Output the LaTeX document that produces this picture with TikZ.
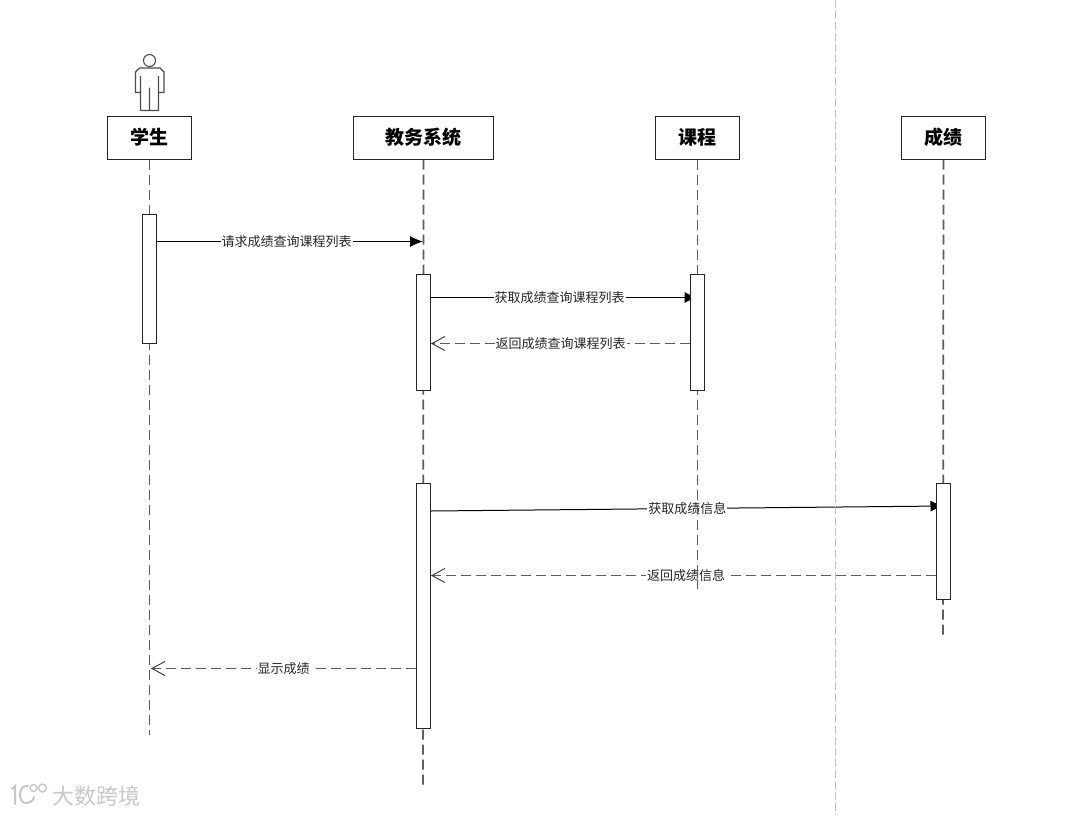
\documentclass[tikz,border=0pt]{standalone}
\usepackage{fontspec}
\setmainfont{Noto Sans CJK SC}
\usetikzlibrary{arrows.meta,backgrounds}
\definecolor{linegray}{HTML}{5E5E5E}
\definecolor{markgray}{HTML}{C8C8C8}
\begin{document}
\begin{tikzpicture}[
        x=1pt, y=-1pt,
        header/.style={draw=black!85, fill=white, line width=1pt, minimum height=43pt, inner sep=0pt, font=\fontsize{19}{22}\selectfont},
        activation/.style={draw=black!85, fill=white, line width=1pt, minimum width=14pt, inner sep=0pt},
        lifeline/.style={draw=linegray, line width=1.7pt, dash pattern=on 10pt off 5pt},
        call/.style={draw=black, line width=1pt, -{Latex[length=13pt,width=11pt]}},
        reply/.style={draw=linegray, line width=1.6pt, dash pattern=on 10pt off 5pt, -{Straight Barb[length=13pt,width=14pt,line width=.9pt,black!80]}},
        msg/.style={fill=white, inner xsep=1pt, inner ysep=0pt, text=black!85, font=\fontsize{13}{15}\selectfont},
        actor/.style={draw=black!70, line width=1.1pt, line join=round},
        brandmark/.style={text=markgray, font=\fontsize{22}{25}\selectfont},
    ]
    \useasboundingbox (0,0) rectangle (1080,815);
    % heads
    \node[header, minimum width=84pt] (stu) at (149.5,137.5) {\textbf{学生}};
    \node[header, minimum width=140pt] (sys) at (423.5,137.5) {\textbf{教务系统}};
    \node[header, minimum width=84pt] (cou) at (697.5,137.5) {\textbf{课程}};
    \node[header, minimum width=84pt] (sco) at (943.5,137.5) {\textbf{成绩}};
    % actor
    \draw[actor] (149.5,60.5) circle (6);
    \draw[actor] (140,92.5) -- (135.5,92.5) -- (135.5,72) -- (139.5,68) -- (160,68) -- (164,72) -- (164,92.5) -- (158.5,92.5)
        (140.5,76) -- (140.5,110.5) -- (158.5,110.5) -- (158.5,76) (149.5,87.5) -- (149.5,110.5);
    % activations
    \node[activation, minimum height=129pt] (stuact) at (149.5,278.5) {};
    \node[activation, minimum height=116pt] (sysact) at (423.5,332) {};
    \node[activation, minimum height=116pt] (couact) at (697.5,332) {};
    \node[activation, minimum height=245pt] (sysshow) at (423.5,605.5) {};
    \node[activation, minimum height=116pt] (scoact) at (943.5,541) {};
    % ends of the lifelines
    \coordinate (stuend) at (149.5,735);
    \coordinate (sysend) at (423,787);
    \coordinate (couend) at (697.5,589);
    \coordinate (scoend) at (943,638);
    \coordinate (reqend) at (423,241.5);
    \coordinate (showend) at (151,668.5);
    \begin{pgfonlayer}{background}
    \fill[white] (0,0) rectangle (1080,815);
    % messages
    \draw[call] (stuact.east |- reqend) -- node[msg, pos=.487] (reqmsg) {请求成绩查询课程列表} (reqend);
    \draw[call] (sysact.east |- 0,297.5) -- node[msg, pos=.483] (getlist) {获取成绩查询课程列表} (couact.center |- 0,297.5);
    \draw[reply] (couact.west |- 0,343.5) -- node[msg, pos=.5] (backlist) {返回成绩查询课程列表} (sysact.east |- 0,343.5);
    \draw[call] (sysshow.east |- 0,511) -- node[msg, pos=.5] (getscore) {获取成绩信息} (scoact.center |- 0,506);
    \draw[reply] (scoact.west |- 0,575.5) -- node[msg, pos=.495] (backscore) {返回成绩信息} (sysshow.east |- 0,575.5);
    \draw[reply] (sysshow.west |- showend) -- node[msg, pos=.5] (showmsg) {显示成绩} (showend);
    \draw[lifeline] (stu.south) -- (stuend);
    \draw[lifeline] (sys.south) -- (sysend);
    \draw[lifeline] (cou.south) -- (couend);
    \draw[lifeline] (sco.south) -- (scoend);
    % page edge
    \draw[black!25, line width=1pt, dash pattern=on 8pt off 3pt] (835.5,0) -- (835.5,815);
    \end{pgfonlayer}
    % watermark
    \node[brandmark, anchor=west, inner sep=0pt] (brand) at (52,796) {大数跨境};
    \draw[markgray, line width=2pt, line cap=round] (12,789) -- (15,786) -- (15,804);
    \draw[markgray, line width=2pt, line cap=round] (28,786) .. controls (18,784) and (17,804) .. (27,803) .. controls (32,802) and (34,799) .. (34,797);
    \draw[markgray, line width=1.4pt] (33.5,788) circle (3.5) (42.5,788) circle (4);
\end{tikzpicture}
\end{document}
